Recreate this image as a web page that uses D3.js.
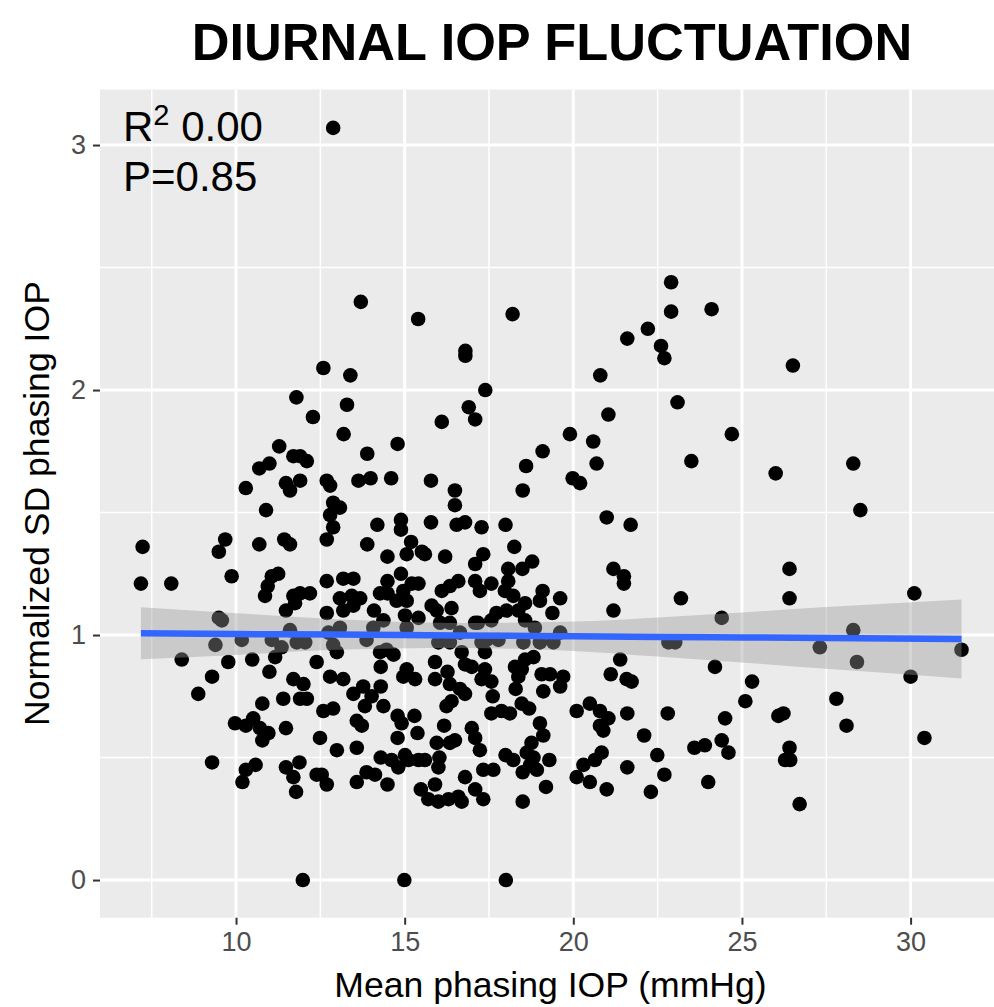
<!DOCTYPE html>
<html><head><meta charset="utf-8">
<script src="https://cdn.jsdelivr.net/npm/d3@7"></script>
<style>
body{margin:0;background:#fff}
svg{display:block}
text{font-family:"Liberation Sans",Arial,Helvetica,sans-serif}
</style>
</head><body>
<svg id="chart" width="994" height="1007"></svg>
<script>
// ---- data ----
const iopMean = [
 12.88,13.70,15.40,18.20,16.80,16.80,12.59,13.39,11.79,17.39,13.29,16.90,
 22.90,22.90,24.10,22.21,21.60,22.60,22.70,26.51,20.80,23.09,
 7.23,7.18,8.08,9.68,9.49,9.87,9.49,9.58,9.39,
 12.28,13.19,11.28,11.70,11.90,12.10,10.99,10.69,10.29,11.48,11.60,11.90,12.69,12.79,13.63,12.88,13.08,12.79,12.88,10.89,10.69,11.43,11.60,12.69,11.25,11.06,10.94,10.86,11.70,11.90,12.19,11.75,11.48,12.69,13.18,13.48,13.08,13.43,13.18,13.48,12.69,11.60,10.17,11.06,11.80,12.05,11.35,12.74,13.08,12.88,12.99,
 17.09,16.10,14.79,13.89,13.99,14.60,15.78,16.49,16.49,14.19,14.89,14.89,15.78,16.54,16.79,17.28,13.89,15.19,15.06,15.51,15.60,14.49,16.20,17.09,17.33,14.89,14.49,15.21,15.41,14.96,14.27,14.49,13.68,14.76,15.06,15.80,15.95,16.10,16.34,16.59,16.39,17.09,17.23,14.09,14.37,15.01,15.41,16.05,16.34,17.09,14.07,15.06,13.87,16.00,16.34,16.64,17.28,14.46,14.27,
 21.04,19.90,20.59,19.09,20.69,18.60,19.98,20.20,18.50,20.99,17.99,18.25,18.78,18.49,18.07,17.57,18.07,17.97,18.22,19.09,19.61,19.01,18.57,18.37,19.38,18.02,17.72,17.57,17.17,18.57,18.86,19.61,17.43,17.78,18.52,19.01,19.41,17.38,21.19,21.19,
 24.70,23.50,26.00,28.30,28.51,21.70,21.50,21.50,23.19,26.41,26.41,30.11,24.40,22.82,23.02,28.30,27.31,31.51,28.41,21.39,21.11,21.58,21.73,24.20,25.30,25.10,30.00,27.80,28.10,30.41,26.08,26.23,21.60,22.80,24.50,22.10,22.49,23.59,23.90,24.40,24.60,26.41,26.28,26.43,21.60,22.70,24.00,22.30,26.71,
 8.39,9.77,9.29,8.88,9.97,9.29,10.48,11.16,10.99,12.39,11.70,12.00,12.79,13.18,13.48,10.78,11.40,11.90,12.10,12.59,12.88,10.29,10.51,10.71,10.96,10.78,11.48,12.49,12.99,13.58,13.58,10.29,10.58,10.19,11.48,11.88,11.70,11.78,12.39,12.54,12.69,13.58,11.98,
 14.67,14.29,15.06,15.31,14.96,15.90,15.90,16.27,16.79,16.99,16.69,17.28,13.77,14.29,14.02,13.82,14.37,16.34,16.64,16.79,16.39,16.24,14.79,14.91,15.29,13.73,15.38,16.17,14.79,15.95,16.34,16.49,16.99,17.09,17.23,14.29,14.61,15.01,15.11,14.81,15.41,15.60,16.03,16.00,13.87,14.12,14.49,15.48,15.90,15.70,16.00,16.30,16.59,16.69,16.79,17.09,17.33,17.33,14.99,
 17.38,17.57,17.61,18.27,18.57,18.82,18.47,18.37,19.06,19.31,19.70,19.61,19.11,18.29,18.47,18.69,17.57,17.87,18.12,19.01,19.11,18.76,18.62,18.82,18.72,18.92,17.99,18.22,18.50,19.29,17.63,18.50,19.19,18.00,20.10,20.49,20.79,21.04,20.79,20.89,20.84,20.64,20.30,20.10,20.49,20.99
];
const sdNorm = [
 3.07,2.36,2.29,2.31,2.16,2.14,2.09,2.06,1.97,2.00,1.94,1.93,
 2.44,2.32,2.33,2.25,2.21,2.18,2.13,2.10,2.06,1.95,
 1.36,1.21,1.21,1.39,1.34,1.24,1.07,1.06,0.96,
 1.89,1.82,1.77,1.73,1.73,1.71,1.70,1.68,1.60,1.62,1.59,1.63,1.63,1.61,1.63,1.54,1.52,1.49,1.44,1.51,1.37,1.39,1.37,1.39,1.25,1.24,1.20,1.16,1.16,1.17,1.17,1.13,1.10,1.22,1.23,1.23,1.15,1.16,1.10,1.12,1.09,1.02,0.98,0.98,0.97,0.97,0.95,1.01,1.03,0.96,0.93,
 1.88,1.87,1.78,1.74,1.64,1.64,1.63,1.59,1.53,1.45,1.47,1.43,1.46,1.45,1.46,1.44,1.37,1.38,1.33,1.34,1.33,1.32,1.32,1.29,1.33,1.25,1.22,1.21,1.21,1.18,1.17,1.17,1.15,1.14,1.14,1.12,1.10,1.18,1.20,1.22,1.11,1.22,1.18,1.10,1.06,1.08,1.07,1.05,1.05,1.05,1.03,1.03,0.98,0.97,0.97,1.01,0.97,0.94,0.93,
 1.90,1.82,1.79,1.75,1.70,1.69,1.64,1.62,1.59,1.48,1.45,1.36,1.30,1.27,1.27,1.21,1.22,1.18,1.16,1.18,1.15,1.14,1.13,1.10,1.09,1.10,1.09,1.06,1.05,1.06,1.03,1.01,0.98,0.98,0.97,0.97,0.97,0.93,1.27,1.10,
 1.82,1.71,1.66,1.70,1.51,1.45,1.24,1.21,1.15,1.27,1.15,1.17,1.07,0.97,0.97,1.02,0.95,0.94,0.89,0.90,0.84,0.82,0.81,0.87,0.81,0.73,0.83,0.74,0.63,0.58,0.67,0.68,0.68,0.68,0.66,0.59,0.51,0.54,0.55,0.57,0.52,0.54,0.49,0.49,0.46,0.43,0.40,0.36,0.31,
 0.90,0.89,0.83,0.76,0.64,0.48,0.90,0.91,0.85,0.89,0.82,0.80,0.83,0.82,0.76,0.72,0.74,0.74,0.74,0.69,0.70,0.63,0.66,0.62,0.60,0.57,0.62,0.58,0.53,0.65,0.54,0.45,0.47,0.40,0.46,0.48,0.42,0.36,0.43,0.43,0.39,0.40,0.00,
 0.92,0.87,0.86,0.82,0.83,0.89,0.82,0.85,0.88,0.87,0.93,0.82,0.79,0.79,0.75,0.71,0.71,0.80,0.78,0.76,0.73,0.71,0.67,0.64,0.67,0.63,0.60,0.63,0.58,0.56,0.56,0.57,0.62,0.58,0.53,0.50,0.49,0.51,0.49,0.46,0.49,0.49,0.50,0.46,0.44,0.43,0.39,0.37,0.39,0.33,0.32,0.33,0.34,0.32,0.42,0.37,0.45,0.33,0.00,
 0.86,0.81,0.75,0.87,0.90,0.91,0.86,0.83,0.84,0.84,0.83,0.79,0.77,0.78,0.72,0.70,0.68,0.69,0.68,0.64,0.59,0.56,0.52,0.50,0.47,0.45,0.51,0.49,0.44,0.49,0.45,0.32,0.38,0.00,0.69,0.72,0.69,0.66,0.63,0.61,0.52,0.49,0.47,0.42,0.40,0.37
];
// linear fit with 95% confidence band
const fitX  = [7.18, 10, 13, 16.5, 20, 22.5, 25, 27.5, 31.51];
const fitY  = [1.007,1.004,1.002,0.998,0.995,0.992,0.990,0.988,0.984];
const fitLo = [0.901,0.919,0.940,0.947,0.935,0.912,0.888,0.862,0.823];
const fitHi = [1.113,1.089,1.064,1.049,1.055,1.072,1.092,1.114,1.145];

const xTicks = [10, 15, 20, 25, 30];
const yTicks = [0, 1, 2, 3];
const xMinor = [7.5, 12.5, 17.5, 22.5, 27.5, 32.5];
const yMinor = [0.5, 1.5, 2.5];

const titleText = "DIURNAL IOP FLUCTUATION";
const xTitle = "Mean phasing IOP (mmHg)";
const yTitle = "Normalized SD phasing IOP";
const r2Text = "0.00";
const pText = "P=0.85";

// ---- layout ----
const svg = d3.select("#chart");
const P = {left: 100, right: 1002, top: 89.5, bottom: 917.7};
const x = d3.scaleLinear().domain([5.967, 32.71]).range([P.left, P.right]);
const y = d3.scaleLinear().domain([-0.1537, 3.2267]).range([P.bottom, P.top]);

// panel
svg.append("rect").attr("x", P.left).attr("y", P.top)
  .attr("width", P.right - P.left).attr("height", P.bottom - P.top)
  .attr("fill", "#EBEBEB");

const grid = svg.append("g");
grid.selectAll(".vmin").data(xMinor).join("line")
  .attr("x1", d => x(d)).attr("x2", d => x(d)).attr("y1", P.top).attr("y2", P.bottom)
  .attr("stroke", "#fff").attr("stroke-width", 1.5);
grid.selectAll(".hmin").data(yMinor).join("line")
  .attr("y1", d => y(d)).attr("y2", d => y(d)).attr("x1", P.left).attr("x2", P.right)
  .attr("stroke", "#fff").attr("stroke-width", 1.5);
grid.selectAll(".vmaj").data(xTicks).join("line")
  .attr("x1", d => x(d)).attr("x2", d => x(d)).attr("y1", P.top).attr("y2", P.bottom)
  .attr("stroke", "#fff").attr("stroke-width", 3);
grid.selectAll(".hmaj").data(yTicks).join("line")
  .attr("y1", d => y(d)).attr("y2", d => y(d)).attr("x1", P.left).attr("x2", P.right)
  .attr("stroke", "#fff").attr("stroke-width", 3);

// points
const n = Math.min(iopMean.length, sdNorm.length);
const pts = d3.range(n).map(i => ({x: iopMean[i], y: sdNorm[i]}));
svg.append("g").selectAll("circle").data(pts).join("circle")
  .attr("cx", d => x(d.x)).attr("cy", d => y(d.y)).attr("r", 7.3).attr("fill", "#000");

// confidence ribbon + fit line
const fit = fitX.map((v, i) => ({x: v, y: fitY[i], lo: fitLo[i], hi: fitHi[i]}));
svg.append("path").datum(fit)
  .attr("d", d3.area().x(d => x(d.x)).y0(d => y(d.lo)).y1(d => y(d.hi)).curve(d3.curveMonotoneX))
  .attr("fill", "#999999").attr("fill-opacity", 0.4);
svg.append("path").datum(fit)
  .attr("d", d3.line().x(d => x(d.x)).y(d => y(d.y)).curve(d3.curveMonotoneX))
  .attr("fill", "none").attr("stroke", "#3366FF").attr("stroke-width", 6.5);

// axes
const xAxis = svg.append("g").attr("transform", `translate(0,${P.bottom})`)
  .call(d3.axisBottom(x).tickValues(xTicks).tickSize(7).tickPadding(7).tickFormat(d3.format("d")));
const yAxis = svg.append("g").attr("transform", `translate(${P.left},0)`)
  .call(d3.axisLeft(y).tickValues(yTicks).tickSize(7).tickPadding(7).tickFormat(d3.format("d")));
[xAxis, yAxis].forEach(g => {
  g.select(".domain").remove();
  g.selectAll(".tick line").attr("stroke", "#333333").attr("stroke-width", 2);
  g.selectAll(".tick text").attr("fill", "#4D4D4D").style("font-size", "27px")
    .style("font-family", '"Liberation Sans",Arial,sans-serif');
});

// titles
svg.append("text").attr("x", 552).attr("y", 60).attr("text-anchor", "middle")
  .style("font-size", "52.3px").style("font-weight", "bold").attr("fill", "#000").text(titleText);
svg.append("text").attr("x", 550.5).attr("y", 997).attr("text-anchor", "middle")
  .style("font-size", "35.6px").attr("fill", "#000").text(xTitle);
svg.append("text").attr("transform", `translate(49,${(P.top + P.bottom) / 2}) rotate(-90)`)
  .attr("text-anchor", "middle").style("font-size", "35.6px").attr("fill", "#000").text(yTitle);

// annotations
const ann = svg.append("text").attr("x", 123).attr("y", 140.7).style("font-size", "42px").attr("fill", "#000");
ann.append("tspan").text("R");
ann.append("tspan").attr("dy", -16).style("font-size", "29px").text("2");
ann.append("tspan").attr("dy", 16).text(" " + r2Text);
svg.append("text").attr("x", 123).attr("y", 190.7).style("font-size", "42px").attr("fill", "#000").text(pText);
</script>
</body></html>
